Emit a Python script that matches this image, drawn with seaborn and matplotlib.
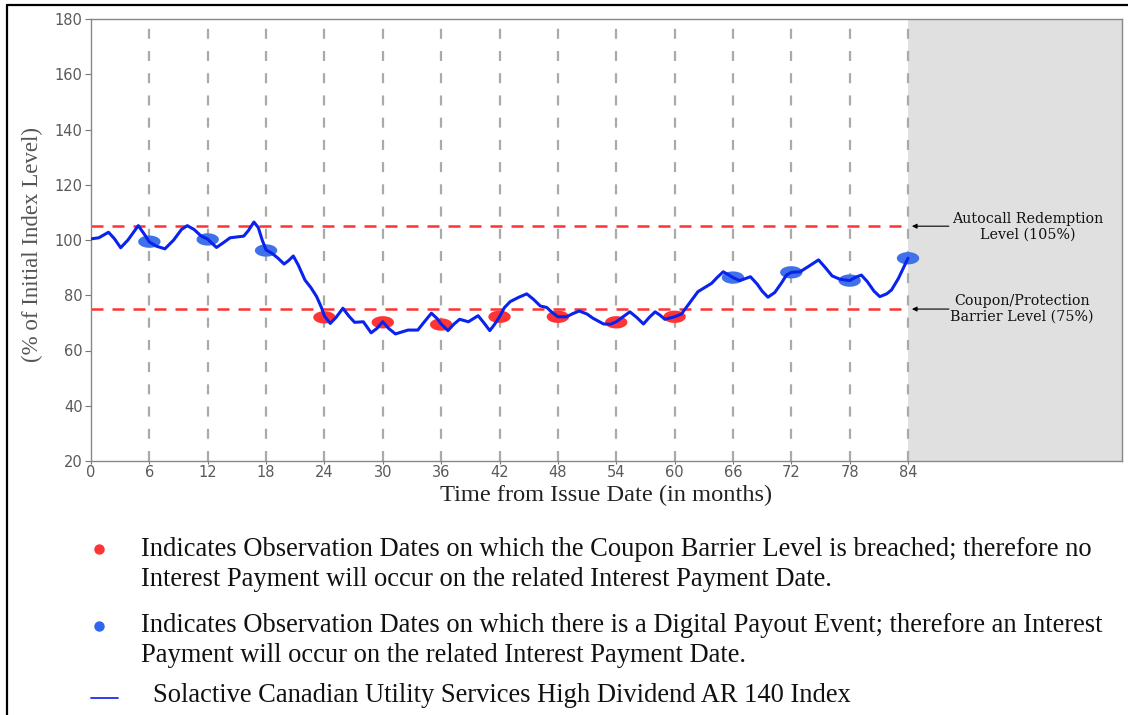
import numpy as np
import pandas as pd
import seaborn as sns
import matplotlib
matplotlib.use("Agg")
import matplotlib.pyplot as plt
from matplotlib.path import Path
from matplotlib.lines import Line2D

# ---------------- data ----------------
months = [0, 0.8, 1.8, 2.4, 3.05, 3.8, 4.86, 5.5, 6, 6.7, 7.6, 8.5, 9.3, 9.9, 10.6, 11.3,
          12, 12.9, 13.6, 14.3, 15.7, 16.2, 16.75, 17.2, 17.6, 18, 18.6, 19.2, 19.85, 20.3,
          20.8, 21.3, 22.0, 22.6, 23.2, 23.7, 24, 24.6, 25.2, 25.9, 26.5, 27.1, 28.0, 28.8,
          29.4, 30, 30.6, 31.3, 32.6, 33.6, 34.3, 35.0, 35.6, 36, 36.7, 37.3, 37.9, 38.8,
          39.8, 40.4, 41.0, 41.5, 42, 42.5, 43.1, 44.0, 44.8, 45.5, 46.2, 46.85, 47.4, 48,
          48.9, 49.5, 50.2, 51.0, 51.6, 52.7, 53.4, 54, 54.7, 55.4, 56.1, 56.8, 57.4, 58.0,
          58.5, 59.0, 60, 60.7, 61.5, 62.4, 63.8, 64.4, 65.0, 65.5, 66, 66.7, 67.8, 68.5,
          69.0, 69.6, 70.3, 71.0, 71.5, 72, 72.9, 73.8, 74.8, 75.5, 76.2, 77.0, 78, 78.6,
          79.2, 79.8, 80.5, 81.1, 81.8, 82.3, 83.0, 84]
index_level = [100.4, 100.8, 102.8, 100.5, 97.2, 100.0, 105.2, 102.0, 99.3, 97.8, 96.8, 100.0,
               103.8, 105.2, 103.8, 101.5, 100.3, 97.3, 99.0, 100.8, 101.4, 103.5, 106.5, 104.5,
               100.0, 96.4, 95.2, 93.5, 91.3, 92.5, 94.2, 91.0, 85.5, 82.8, 79.5, 75.5, 72.5,
               69.8, 72.0, 75.3, 72.5, 70.2, 70.4, 66.4, 68.0, 70.4, 68.0, 66.0, 67.4, 67.4,
               70.5, 73.5, 71.5, 69.6, 67.2, 69.5, 71.3, 70.4, 72.6, 70.0, 67.2, 69.5, 72.2,
               75.5, 77.7, 79.3, 80.5, 78.5, 76.1, 75.6, 73.8, 72.2, 72.2, 73.3, 74.3, 73.2,
               71.7, 69.6, 69.5, 70.4, 72.2, 74.0, 72.0, 69.6, 72.0, 74.0, 72.8, 71.3, 72.2,
               73.2, 77.0, 81.3, 84.3, 86.5, 88.5, 87.5, 86.4, 85.3, 86.7, 84.0, 81.5, 79.3,
               81.0, 84.5, 87.3, 88.3, 88.5, 90.5, 92.8, 90.0, 87.0, 85.8, 85.3, 86.5, 87.3,
               85.0, 81.5, 79.5, 80.5, 81.9, 86.0, 93.4]

breach_months = [24, 30, 36, 42, 48, 54, 60]
breach_values = [72.0, 70.2, 69.4, 72.2, 72.2, 70.2, 72.2]
payout_months = [6, 12, 18, 66, 72, 78, 84]
payout_values = [99.4, 100.2, 96.2, 86.4, 88.3, 85.3, 93.4]

obs_ticks = [0, 6, 12, 18, 24, 30, 36, 42, 48, 54, 60, 66, 72, 78, 84]
y_ticks = [20, 40, 60, 80, 100, 120, 140, 160, 180]
autocall_level = 105
barrier_level = 75

legend_lines = [
    "Indicates Observation Dates on which the Coupon Barrier Level is breached; therefore no",
    "Interest Payment will occur on the related Interest Payment Date.",
    "Indicates Observation Dates on which there is a Digital Payout Event; therefore an Interest",
    "Payment will occur on the related Interest Payment Date.",
    "Solactive Canadian Utility Services High Dividend AR 140 Index",
]

# ---------------- style ----------------
sns.set_theme(style="white")
plt.rcParams["font.family"] = ["DejaVu Sans"]

W, H = 1128, 715
fig = plt.figure(figsize=(W / 100, H / 100), dpi=100)
ax = fig.add_axes([91 / W, 1 - 461 / H, 1031 / W, 442 / H])

df_line = pd.DataFrame({"month": months, "level": index_level})
df_red = pd.DataFrame({"month": breach_months, "level": breach_values})
df_blue = pd.DataFrame({"month": payout_months, "level": payout_values})

# maturity shading
ax.axvspan(84, 106, color="#e0e0e0", zorder=0, lw=0)

# vertical observation lines
for m in obs_ticks[1:]:
    ax.axvline(m, color="#aaaaaa", lw=1.6, ls=(0, (4.5, 5.5)), zorder=1)

# barrier lines
for lvl in (autocall_level, barrier_level):
    ax.axhline(lvl, color="#ff3333", lw=1.8, ls=(0, (4.8, 3.6)), zorder=2,
               xmax=84 / 106)

# ellipse marker
t = np.linspace(0, 2 * np.pi, 60)
ell = Path(np.column_stack([np.cos(t), 0.55 * np.sin(t)]), closed=True)

sns.scatterplot(data=df_red, x="month", y="level", marker=ell, s=260,
                color="#ff3535", edgecolor="none", ax=ax, zorder=3, legend=False)
sns.scatterplot(data=df_blue, x="month", y="level", marker=ell, s=260,
                color="#3f72e8", edgecolor="none", ax=ax, zorder=3, legend=False)
sns.lineplot(data=df_line, x="month", y="level", color="#0a22ee", lw=2.2,
             ax=ax, zorder=4, sort=False, estimator=None,
             solid_joinstyle="round", solid_capstyle="round")

ax.set_xlim(0, 106)
ax.set_ylim(20, 180)
ax.set_xticks(obs_ticks)
ax.set_yticks(y_ticks)
ax.tick_params(axis="both", labelsize=10.5, labelcolor="#5a5a5a", color="#777777")
ax.tick_params(axis="y", length=4, width=0.8, pad=2, left=True)
ax.tick_params(axis="x", length=2, width=0.8, pad=1, bottom=True)
for s in ax.spines.values():
    s.set_color("#888888")
    s.set_linewidth(1.0)

ax.set_xlabel("Time from Issue Date (in months)", family="Liberation Serif",
              fontsize=17.6, color="#222222")
ax.set_ylabel("(% of Initial Index Level)", family="Liberation Serif",
              fontsize=16.5, color="#555555")
ax.xaxis.set_label_coords(0.5, -0.055)
ax.yaxis.set_label_coords(-0.047, 0.49)

# annotations
ann_kw = dict(family="DejaVu Serif", fontsize=10.3, color="#111111",
              ha="center", va="center", linespacing=1.15)
ax.annotate("", xy=(84.4, autocall_level), xytext=(88.2, autocall_level),
            arrowprops=dict(arrowstyle="-|>", color="black", lw=0.8,
                            mutation_scale=7, shrinkA=0, shrinkB=0))
ax.annotate("", xy=(84.4, barrier_level), xytext=(88.2, barrier_level),
            arrowprops=dict(arrowstyle="-|>", color="black", lw=0.8,
                            mutation_scale=7, shrinkA=0, shrinkB=0))
ax.text(96.3, 104.6, "Autocall Redemption\nLevel (105%)", **ann_kw)
ax.text(95.7, 75.2, "Coupon/Protection\nBarrier Level (75%)", **ann_kw)

# bottom legend
txt_kw = dict(family="Liberation Serif", fontsize=19.1, color="#111111",
              ha="left", va="center")
line_y = [550, 579, 626, 656, 696]
x_text = [141, 141, 141, 141, 153]
for txt, yy, xx in zip(legend_lines, line_y, x_text):
    fig.text(xx / W, 1 - yy / H, txt, **txt_kw)

fig.add_artist(Line2D([99 / W], [1 - 549 / H], marker="o", ms=7.5, color="#ff3535",
                      mec="none", ls="none", transform=fig.transFigure))
fig.add_artist(Line2D([99 / W], [1 - 626 / H], marker="o", ms=7.5, color="#3366ee",
                      mec="none", ls="none", transform=fig.transFigure))
fig.add_artist(Line2D([91 / W, 118 / W], [1 - 698 / H, 1 - 698 / H], color="#1a2ef0",
                      lw=1.3, transform=fig.transFigure))

# outer frame (left and top)
fig.add_artist(Line2D([6.5 / W, 6.5 / W], [0, 1 - 5 / H], color="black", lw=1.6,
                      transform=fig.transFigure))
fig.add_artist(Line2D([6.5 / W, 1], [1 - 5 / H, 1 - 5 / H], color="black", lw=1.6,
                      transform=fig.transFigure))

fig.savefig("out.png", dpi=100)
